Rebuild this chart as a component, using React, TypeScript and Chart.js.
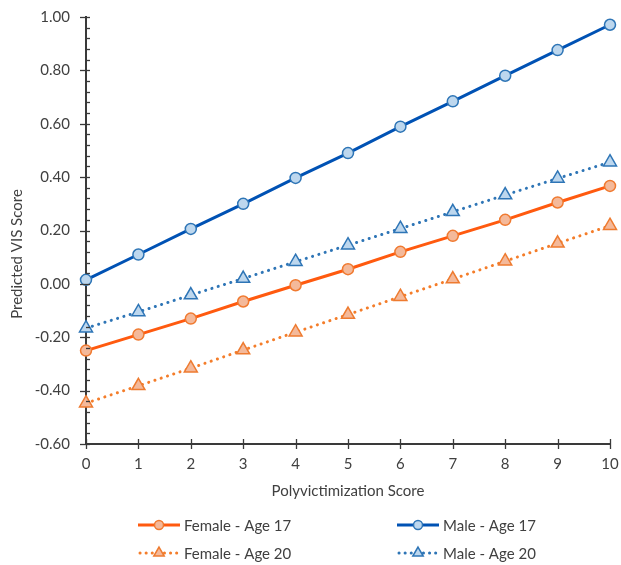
import React, { useEffect, useRef } from "react";
import { Chart, registerables } from "chart.js";

Chart.register(...registerables);

const categories = ["0", "1", "2", "3", "4", "5", "6", "7", "8", "9", "10"];
const female17 = [-0.25, -0.19, -0.13, -0.066, -0.005, 0.055, 0.12, 0.18, 0.24, 0.305, 0.367];
const male17 = [0.015, 0.11, 0.206, 0.3, 0.397, 0.49, 0.589, 0.684, 0.78, 0.876, 0.971];
const female20 = [-0.447, -0.382, -0.316, -0.248, -0.181, -0.115, -0.048, 0.018, 0.085, 0.152, 0.218];
const male20 = [-0.166, -0.105, -0.042, 0.02, 0.083, 0.145, 0.207, 0.27, 0.333, 0.395, 0.456];
const seriesNames = ["Female - Age 17", "Male - Age 17", "Female - Age 20", "Male - Age 20"];
const yMin = -0.6;
const yMax = 1.0;
const yStep = 0.2;
const yMinorStep = 0.04;

const FONT = "Lato, 'Open Sans', sans-serif";
const FS = 15;
const TEXT = "#404040";
const AXIS = "#3a3a3a";

const styles = [
  { line: "#FF5A0F", fill: "#F4B99A", border: "#F07A30", dash: [] as number[], point: "circle", radius: 5.5 },
  { line: "#0052B4", fill: "#BDD7EE", border: "#2E75B6", dash: [] as number[], point: "circle", radius: 5.5 },
  { line: "#F47D2A", fill: "#F4B99A", border: "#EE7B30", dash: [0.1, 6.5], point: "triangle", radius: 7.5 },
  { line: "#2E75B6", fill: "#BDD7EE", border: "#2E75B6", dash: [0.1, 6.5], point: "triangle", radius: 7.5 },
];

const customPlugin = {
  id: "custom",
  afterDraw(chart: any) {
    const ctx = chart.ctx;
    const xs = chart.scales.x;
    const ys = chart.scales.y;
    const area = chart.chartArea;
    ctx.save();
    ctx.strokeStyle = AXIS;
    ctx.lineWidth = 1.3;
    const nMinor = Math.round((yMax - yMin) / yMinorStep);
    for (let i = 0; i <= nMinor; i++) {
      const v = yMin + i * yMinorStep;
      const py = Math.round(ys.getPixelForValue(v)) + 0.5;
      const major = i % Math.round(yStep / yMinorStep) === 0;
      ctx.beginPath();
      if (major) {
        ctx.moveTo(area.left - 6, py);
        ctx.lineTo(area.left + 4, py);
      } else {
        ctx.moveTo(area.left, py);
        ctx.lineTo(area.left + 4, py);
      }
      ctx.stroke();
    }
    for (let i = 0; i < categories.length; i++) {
      const px = Math.round(xs.getPixelForValue(i)) + 0.5;
      ctx.beginPath();
      ctx.moveTo(px, area.bottom - 5);
      ctx.lineTo(px, area.bottom + 5);
      ctx.stroke();
    }
    ctx.fillStyle = TEXT;
    ctx.font = `${FS}px ${FONT}`;
    ctx.textAlign = "center";
    ctx.textBaseline = "middle";
    ctx.translate(17, 254);
    ctx.rotate(-Math.PI / 2);
    ctx.fillText("Predicted VIS Score", 0, 0);
    ctx.restore();

    const cols = [138, 397];
    const rows = [525, 553];
    chart.data.datasets.forEach((ds: any, i: number) => {
      const s = styles[i];
      const x0 = cols[i % 2];
      const y0 = rows[Math.floor(i / 2)];
      ctx.save();
      ctx.strokeStyle = s.line;
      ctx.lineWidth = 3;
      ctx.lineCap = s.dash.length ? "round" : "butt";
      ctx.setLineDash(s.dash.length ? [0.1, 6] : []);
      ctx.beginPath();
      ctx.moveTo(x0 + (s.dash.length ? 2 : 0), y0);
      ctx.lineTo(x0 + 42, y0);
      ctx.stroke();
      ctx.setLineDash([]);
      ctx.fillStyle = s.fill;
      ctx.strokeStyle = s.border;
      ctx.lineWidth = 1.5;
      ctx.beginPath();
      if (s.point === "circle") {
        ctx.arc(x0 + 21, y0, 4.5, 0, Math.PI * 2);
      } else {
        const r = 6;
        ctx.moveTo(x0 + 21, y0 - r);
        ctx.lineTo(x0 + 21 + r * 0.866, y0 + r * 0.5);
        ctx.lineTo(x0 + 21 - r * 0.866, y0 + r * 0.5);
        ctx.closePath();
      }
      ctx.fill();
      ctx.stroke();
      ctx.fillStyle = TEXT;
      ctx.font = `${FS}px ${FONT}`;
      ctx.textAlign = "left";
      ctx.textBaseline = "middle";
      ctx.fillText(ds.label, x0 + 46, y0 + 1);
      ctx.restore();
    });
  },
};

export default function App() {
  const ref = useRef<HTMLCanvasElement | null>(null);
  useEffect(() => {
    document.body.style.margin = "0";
    const canvas = ref.current;
    if (!canvas) return;
    const values = [female17, male17, female20, male20];
    const chart = new Chart(canvas, {
      type: "line",
      data: {
        labels: categories,
        datasets: values.map((d, i) => ({
          label: seriesNames[i],
          data: d,
          borderColor: styles[i].line,
          borderWidth: 3,
          borderDash: styles[i].dash,
          borderCapStyle: styles[i].dash.length ? "round" : "butt",
          pointStyle: styles[i].point,
          pointRadius: styles[i].radius,
          pointBackgroundColor: styles[i].fill,
          pointBorderColor: styles[i].border,
          pointBorderWidth: 1.5,
          tension: 0,
          order: 3 - i,
        })) as any,
      },
      options: {
        animation: false,
        responsive: false,
        devicePixelRatio: 1,
        layout: { padding: { left: 0, right: 11, top: 17, bottom: 63 } },
        plugins: { legend: { display: false }, tooltip: { enabled: false } },
        scales: {
          x: {
            type: "category",
            offset: false,
            grid: { display: false },
            border: { display: true, color: AXIS, width: 2 },
            ticks: { color: TEXT, font: { family: FONT, size: FS }, padding: 3, maxRotation: 0 },
            title: {
              display: true,
              text: "Polyvictimization Score",
              color: TEXT,
              font: { family: FONT, size: FS },
              padding: { top: 4, bottom: 2 },
            },
            afterFit: (s: any) => {
              s.height = 58;
              s.paddingLeft = 0;
              s.paddingRight = 0;
            },
          },
          y: {
            min: yMin,
            max: yMax,
            grid: { display: false },
            border: { display: true, color: AXIS, width: 2 },
            ticks: {
              stepSize: yStep,
              color: TEXT,
              font: { family: FONT, size: FS },
              padding: 8,
              callback: (v: any) => Number(v).toFixed(2),
            },
            afterFit: (s: any) => {
              s.width = 86;
              s.paddingTop = 0;
              s.paddingBottom = 0;
            },
          },
        },
      },
      plugins: [customPlugin],
    });
    return () => chart.destroy();
  }, []);
  return <canvas ref={ref} width={621} height={565} style={{ display: "block" }} />;
}
